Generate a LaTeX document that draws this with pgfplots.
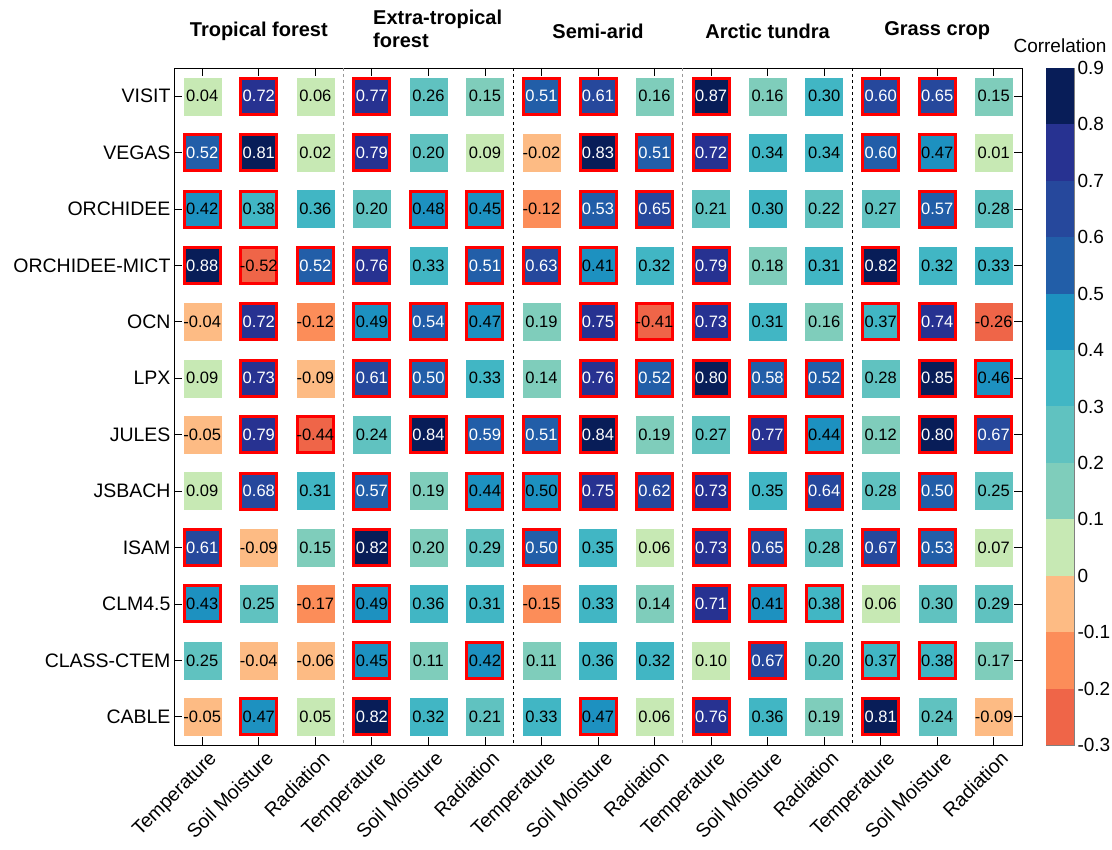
\documentclass[border=0pt]{standalone}
\usepackage{fontspec}
\setmainfont{Liberation Sans}
\usepackage{pgfplots}
\usepackage{pgfplotstable}
\pgfplotsset{compat=1.18}

\definecolor{b0}{RGB}{239,101,72}
\definecolor{b1}{RGB}{252,141,89}
\definecolor{b2}{RGB}{253,187,132}
\definecolor{b3}{RGB}{199,233,180}
\definecolor{b4}{RGB}{127,205,187}
\definecolor{b5}{RGB}{96,194,192}
\definecolor{b6}{RGB}{65,182,196}
\definecolor{b7}{RGB}{29,145,192}
\definecolor{b8}{RGB}{34,94,168}
\definecolor{b9}{RGB}{38,72,156}
\definecolor{b10}{RGB}{39,50,145}
\definecolor{b11}{RGB}{8,29,88}

% x = column (biome x variable), y = model row, v = correlation, s = significant
\pgfplotstableread{
x y v s
0 0 0.04 0
1 0 0.72 1
2 0 0.06 0
3 0 0.77 1
4 0 0.26 0
5 0 0.15 0
6 0 0.51 1
7 0 0.61 1
8 0 0.16 0
9 0 0.87 1
10 0 0.16 0
11 0 0.30 0
12 0 0.60 1
13 0 0.65 1
14 0 0.15 0
0 1 0.52 1
1 1 0.81 1
2 1 0.02 0
3 1 0.79 1
4 1 0.20 0
5 1 0.09 0
6 1 -0.02 0
7 1 0.83 1
8 1 0.51 1
9 1 0.72 1
10 1 0.34 0
11 1 0.34 0
12 1 0.596 1
13 1 0.47 1
14 1 0.01 0
0 2 0.42 1
1 2 0.38 1
2 2 0.36 0
3 2 0.20 0
4 2 0.48 1
5 2 0.45 1
6 2 -0.12 0
7 2 0.53 1
8 2 0.65 1
9 2 0.21 0
10 2 0.30 0
11 2 0.22 0
12 2 0.27 0
13 2 0.57 1
14 2 0.28 0
0 3 0.88 1
1 3 -0.52 1
2 3 0.52 1
3 3 0.76 1
4 3 0.33 0
5 3 0.51 1
6 3 0.63 1
7 3 0.41 1
8 3 0.32 0
9 3 0.79 1
10 3 0.18 0
11 3 0.31 0
12 3 0.82 1
13 3 0.32 0
14 3 0.33 0
0 4 -0.04 0
1 4 0.72 1
2 4 -0.12 0
3 4 0.49 1
4 4 0.54 1
5 4 0.47 1
6 4 0.19 0
7 4 0.75 1
8 4 -0.41 1
9 4 0.73 1
10 4 0.31 0
11 4 0.16 0
12 4 0.37 1
13 4 0.74 1
14 4 -0.26 0
0 5 0.09 0
1 5 0.73 1
2 5 -0.09 0
3 5 0.61 1
4 5 0.50 1
5 5 0.33 0
6 5 0.14 0
7 5 0.76 1
8 5 0.52 1
9 5 0.80 1
10 5 0.58 1
11 5 0.52 1
12 5 0.28 0
13 5 0.85 1
14 5 0.46 1
0 6 -0.05 0
1 6 0.79 1
2 6 -0.44 1
3 6 0.24 0
4 6 0.84 1
5 6 0.59 1
6 6 0.51 1
7 6 0.84 1
8 6 0.19 0
9 6 0.27 0
10 6 0.77 1
11 6 0.44 1
12 6 0.12 0
13 6 0.80 1
14 6 0.67 1
0 7 0.09 0
1 7 0.68 1
2 7 0.31 0
3 7 0.57 1
4 7 0.19 0
5 7 0.44 1
6 7 0.496 1
7 7 0.75 1
8 7 0.62 1
9 7 0.73 1
10 7 0.35 0
11 7 0.64 1
12 7 0.28 0
13 7 0.50 1
14 7 0.25 0
0 8 0.61 1
1 8 -0.09 0
2 8 0.15 0
3 8 0.82 1
4 8 0.196 0
5 8 0.29 0
6 8 0.50 1
7 8 0.35 0
8 8 0.06 0
9 8 0.73 1
10 8 0.65 1
11 8 0.28 0
12 8 0.67 1
13 8 0.53 1
14 8 0.07 0
0 9 0.43 1
1 9 0.25 0
2 9 -0.17 0
3 9 0.49 1
4 9 0.36 0
5 9 0.31 0
6 9 -0.15 0
7 9 0.33 0
8 9 0.14 0
9 9 0.71 1
10 9 0.41 1
11 9 0.38 1
12 9 0.06 0
13 9 0.296 0
14 9 0.29 0
0 10 0.25 0
1 10 -0.04 0
2 10 -0.06 0
3 10 0.45 1
4 10 0.11 0
5 10 0.42 1
6 10 0.11 0
7 10 0.36 0
8 10 0.32 0
9 10 0.096 0
10 10 0.67 1
11 10 0.20 0
12 10 0.37 1
13 10 0.38 1
14 10 0.17 0
0 11 -0.05 0
1 11 0.47 1
2 11 0.05 0
3 11 0.82 1
4 11 0.32 0
5 11 0.21 0
6 11 0.33 0
7 11 0.47 1
8 11 0.06 0
9 11 0.76 1
10 11 0.36 0
11 11 0.19 0
12 11 0.81 1
13 11 0.24 0
14 11 -0.09 0
}\corrdata

\newcommand\cellval{%
  \pgfmathtruncatemacro\iswhite{\val>=0.5}%
  \ifnum\iswhite=1 \color{white}\else\color{black}\fi
  \pgfmathprintnumber[fixed,fixed zerofill,precision=2,assume math mode=true]{\val}}

\begin{document}
\begin{tikzpicture}
\useasboundingbox (0,0) rectangle (1112pt,850pt);
\begin{axis}[
  at={(174pt,105pt)}, anchor=south west,
  width=848pt, height=677pt, scale only axis,
  xmin=-0.5, xmax=14.5, ymin=-0.5, ymax=11.5, y dir=reverse,
  xtick={0,...,14}, ytick={0,...,11},
  xticklabels={Temperature,Soil Moisture,Radiation,Temperature,Soil Moisture,Radiation,Temperature,Soil Moisture,Radiation,Temperature,Soil Moisture,Radiation,Temperature,Soil Moisture,Radiation},
  yticklabels={VISIT,VEGAS,ORCHIDEE,ORCHIDEE-MICT,OCN,LPX,JULES,JSBACH,ISAM,CLM4.5,CLASS-CTEM,CABLE},
  tick align=inside, major tick length=8pt,
  tick style={black, line width=0.8pt},
  axis line style={line width=0.8pt},
  xticklabel style={rotate=45, anchor=north east, yshift=-4pt, xshift=4pt, font=\fontsize{19.5}{19.5}\selectfont},
  yticklabel style={font=\fontsize{19.5}{19.5}\selectfont},
  colormap={corr}{
    color(0pt)=(b0) color(9.9pt)=(b0)
    color(10pt)=(b1) color(19.9pt)=(b1)
    color(20pt)=(b2) color(29.9pt)=(b2)
    color(30pt)=(b3) color(39.9pt)=(b3)
    color(40pt)=(b4) color(49.9pt)=(b4)
    color(50pt)=(b5) color(59.9pt)=(b5)
    color(60pt)=(b6) color(69.9pt)=(b6)
    color(70pt)=(b7) color(79.9pt)=(b7)
    color(80pt)=(b8) color(89.9pt)=(b8)
    color(90pt)=(b9) color(99.9pt)=(b9)
    color(100pt)=(b10) color(109.9pt)=(b10)
    color(110pt)=(b11) color(120pt)=(b11)
  },
  point meta min=-0.3, point meta max=0.9,
  clip=false,
]
\draw[dashed, gray!80, line width=0.8pt] (axis cs:2.5,-0.5) -- (axis cs:2.5,11.5);
\draw[dashed, black, line width=0.8pt] (axis cs:5.5,-0.5) -- (axis cs:5.5,11.5);
\draw[dashed, gray!80, line width=0.8pt] (axis cs:8.5,-0.5) -- (axis cs:8.5,11.5);
\draw[dashed, black, line width=0.8pt] (axis cs:11.5,-0.5) -- (axis cs:11.5,11.5);

\addplot[scatter, only marks, mark=square*, mark size=18.5pt,
  point meta=explicit,
  scatter/use mapped color={draw=mapped color, fill=mapped color}]
  table[x=x, y=y, meta=v]{\corrdata};

\addplot[only marks, mark=square, mark size=18pt, draw=red,
  mark options={line width=3pt, draw=red},
  restrict expr to domain={\thisrow{s}}{0.5:1.5}]
  table[x=x, y=y]{\corrdata};

\addplot[only marks, mark=*, mark size=0pt,
  scatter/use mapped color={draw=none, fill=none},
  visualization depends on={\thisrow{v}\as\val},
  nodes near coords={\cellval},
  nodes near coords align={center},
  every node near coord/.append style={anchor=center, inner sep=0pt,
    font=\fontsize{16.5}{16.5}\selectfont}]
  table[x=x, y=y]{\corrdata};

\node[font=\bfseries\fontsize{20}{23}\selectfont] at (axis cs:1,-0.5) [yshift=37pt] {Tropical forest};
\node[font=\bfseries\fontsize{20}{23}\selectfont, anchor=north west, align=left, inner sep=0pt] at (axis cs:3.02,-0.5) [yshift=58pt] {Extra-tropical\\forest};
\node[font=\bfseries\fontsize{20}{23}\selectfont] at (axis cs:7,-0.5) [yshift=37pt] {Semi-arid};
\node[font=\bfseries\fontsize{20}{23}\selectfont] at (axis cs:10,-0.5) [yshift=37pt] {Arctic tundra};
\node[font=\bfseries\fontsize{20}{23}\selectfont] at (axis cs:13,-0.5) [yshift=37pt] {Grass crop};
\end{axis}

\begin{axis}[
  at={(1046pt,105pt)}, anchor=south west,
  width=28pt, height=677pt, scale only axis,
  xmin=0, xmax=1, ymin=-0.3, ymax=0.9,
  xtick=\empty,
  ytick={-0.3,-0.2,-0.1,0,0.1,0.2,0.3,0.4,0.5,0.6,0.7,0.8,0.9},
  yticklabels={-0.3,-0.2,-0.1,0,0.1,0.2,0.3,0.4,0.5,0.6,0.7,0.8,0.9},
  yticklabel pos=right,
  tick align=inside, major tick length=4pt,
  tick style={black!70, line width=0.6pt},
  axis line style={gray, line width=0.6pt},
  yticklabel style={font=\fontsize{19}{19}\selectfont},
  clip=false,
]
\addplot[fill=b0, draw=none] coordinates {(0,-0.3) (1,-0.3) (1,-0.2) (0,-0.2)} -- cycle;
\addplot[fill=b1, draw=none] coordinates {(0,-0.2) (1,-0.2) (1,-0.1) (0,-0.1)} -- cycle;
\addplot[fill=b2, draw=none] coordinates {(0,-0.1) (1,-0.1) (1,0) (0,0)} -- cycle;
\addplot[fill=b3, draw=none] coordinates {(0,0) (1,0) (1,0.1) (0,0.1)} -- cycle;
\addplot[fill=b4, draw=none] coordinates {(0,0.1) (1,0.1) (1,0.2) (0,0.2)} -- cycle;
\addplot[fill=b5, draw=none] coordinates {(0,0.2) (1,0.2) (1,0.3) (0,0.3)} -- cycle;
\addplot[fill=b6, draw=none] coordinates {(0,0.3) (1,0.3) (1,0.4) (0,0.4)} -- cycle;
\addplot[fill=b7, draw=none] coordinates {(0,0.4) (1,0.4) (1,0.5) (0,0.5)} -- cycle;
\addplot[fill=b8, draw=none] coordinates {(0,0.5) (1,0.5) (1,0.6) (0,0.6)} -- cycle;
\addplot[fill=b9, draw=none] coordinates {(0,0.6) (1,0.6) (1,0.7) (0,0.7)} -- cycle;
\addplot[fill=b10, draw=none] coordinates {(0,0.7) (1,0.7) (1,0.8) (0,0.8)} -- cycle;
\addplot[fill=b11, draw=none] coordinates {(0,0.8) (1,0.8) (1,0.9) (0,0.9)} -- cycle;
\node[font=\fontsize{19}{19}\selectfont] at (rel axis cs:0.5,1) [yshift=22pt] {Correlation};
\end{axis}
\end{tikzpicture}
\end{document}
